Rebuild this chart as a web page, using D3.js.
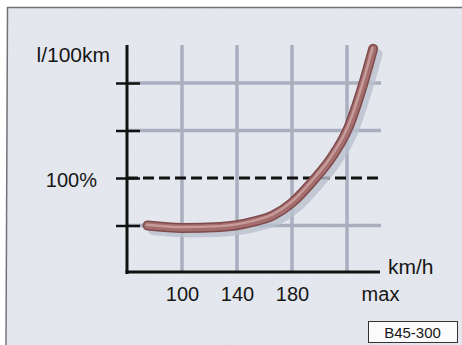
<!DOCTYPE html>
<html>
<head>
<meta charset="utf-8">
<script src="https://cdn.jsdelivr.net/npm/d3@7"></script>
<style>
  html, body { margin: 0; padding: 0; background: #ffffff; }
  svg { display: block; }
  text { font-family: "Liberation Sans", Arial, sans-serif; fill: #161616; }
</style>
</head>
<body>
<svg id="chart" width="462" height="345"></svg>
<script>
// ---- data ----
const speeds = [75, 100, 128, 152, 166, 180, 197, 208, 221, 232, 239];
const consumption = [50, 47.5, 48.5, 54, 60.5, 74, 100, 120, 153, 200, 236];
const xTickValues = [100, 140, 180, 244];
const xTickLabels = ["100", "140", "180", "max"];
const xGridValues = [100, 140, 180, 220];
const yTickValues = [50, 100, 150, 200];
const yTickLabels = ["", "100%", "", ""];
const referenceLevel = 100;
const yAxisTitle = "l/100km";
const xAxisTitle = "km/h";
const figureCode = "B45-300";

const svg = d3.select("#chart");

// background panel with subtle paper texture
const defs = svg.append("defs");
const f = defs.append("filter").attr("id", "paper").attr("x", 0).attr("y", 0).attr("width", "100%").attr("height", "100%");
f.append("feTurbulence").attr("type", "fractalNoise").attr("baseFrequency", 0.9).attr("numOctaves", 2).attr("seed", 3).attr("result", "noise");
f.append("feColorMatrix").attr("in", "noise").attr("type", "matrix")
  .attr("values", "0 0 0 0 0.55  0 0 0 0 0.58  0 0 0 0 0.66  0 0 0 0.22 0").attr("result", "tint");
f.append("feComposite").attr("in", "tint").attr("in2", "SourceGraphic").attr("operator", "over");

svg.append("rect").attr("x", 7).attr("y", 7).attr("width", 470).attr("height", 350)
  .attr("fill", "#e7eaf0").attr("filter", "url(#paper)");
svg.append("line").attr("x1", 7).attr("x2", 462).attr("y1", 7.5).attr("y2", 7.5).attr("stroke", "#6f7278").attr("stroke-width", 1.5);
svg.append("line").attr("x1", 7.5).attr("x2", 6).attr("y1", 7).attr("y2", 345).attr("stroke", "#6f7278").attr("stroke-width", 1.5);

// scales
const x = d3.scaleLinear().domain([60, 244]).range([127, 380]);
const y = d3.scaleLinear().domain([0, 240]).range([273, 45]);

// grid
const grid = svg.append("g");
grid.selectAll("line.v").data(xGridValues).join("line")
  .attr("x1", d => x(d)).attr("x2", d => x(d))
  .attr("y1", y(240)).attr("y2", y(0))
  .attr("stroke", "#a9afbe").attr("stroke-width", 3.5);
grid.selectAll("line.h").data(yTickValues.filter(v => v !== referenceLevel)).join("line")
  .attr("x1", x(60)).attr("x2", x(244) + 1)
  .attr("y1", d => y(d)).attr("y2", d => y(d))
  .attr("stroke", "#a9afbe").attr("stroke-width", 3.5);

// dashed 100% line
svg.append("line")
  .attr("x1", x(60)).attr("x2", x(244) + 1)
  .attr("y1", y(referenceLevel)).attr("y2", y(referenceLevel))
  .attr("stroke", "#111").attr("stroke-width", 3).attr("stroke-dasharray", "11,5");

// curve
const line = d3.line().x((d, i) => x(speeds[i])).y(d => y(d)).curve(d3.curveMonotoneX);
const cg = svg.append("g");
cg.append("path").datum(consumption).attr("d", line)
  .attr("transform", "translate(5,5)")
  .attr("fill", "none").attr("stroke", "#b9c0cd").attr("stroke-width", 9).attr("stroke-linecap", "round").attr("opacity", 0.8);
cg.append("path").datum(consumption).attr("d", line)
  .attr("fill", "none").attr("stroke", "#7f4a4b").attr("stroke-width", 10).attr("stroke-linecap", "round");
cg.append("path").datum(consumption).attr("d", line)
  .attr("fill", "none").attr("stroke", "#a46e6e").attr("stroke-width", 7).attr("stroke-linecap", "round");
cg.append("path").datum(consumption).attr("d", line)
  .attr("transform", "translate(-0.6,-0.8)")
  .attr("fill", "none").attr("stroke", "#c79b9a").attr("stroke-width", 2.5).attr("stroke-linecap", "round");

// y axis
const yAxis = svg.append("g").attr("transform", `translate(${x(60)},0)`)
  .call(d3.axisLeft(y).tickValues(yTickValues).tickSize(11).tickPadding(19)
    .tickFormat((d, i) => yTickLabels[i]));
yAxis.select(".domain").remove();
yAxis.append("line").attr("x1", 0).attr("x2", 0).attr("y1", y(240)).attr("y2", y(0) + 1)
  .attr("stroke", "#111").attr("stroke-width", 3);
yAxis.selectAll(".tick line").attr("x1", -11).attr("x2", 13).attr("stroke", "#111").attr("stroke-width", 2.5);
yAxis.selectAll(".tick text").attr("font-size", 20).attr("font-family", "Liberation Sans, Arial, sans-serif")
  .attr("fill", "#161616").attr("dy", "0.4em");
svg.append("text").attr("x", x(60) - 17).attr("y", y(240) + 17).attr("text-anchor", "end")
  .attr("font-size", 21).text(yAxisTitle);

// x axis
const xAxis = svg.append("g").attr("transform", `translate(0,${y(0) - 1})`)
  .call(d3.axisBottom(x).tickValues(xTickValues).tickSize(0).tickPadding(15)
    .tickFormat((d, i) => xTickLabels[i]));
xAxis.select(".domain").remove();
xAxis.append("line").attr("x1", x(60) - 1.5).attr("x2", x(244)).attr("y1", 0).attr("y2", 0)
  .attr("stroke", "#111").attr("stroke-width", 3);
xAxis.selectAll(".tick text").attr("font-size", 20).attr("font-family", "Liberation Sans, Arial, sans-serif")
  .attr("fill", "#161616");
svg.append("text").attr("x", x(244) + 8).attr("y", y(0) + 1).attr("text-anchor", "start")
  .attr("font-size", 21).text(xAxisTitle);

// figure code box
svg.append("rect").attr("x", 368.5).attr("y", 321.5).attr("width", 89).attr("height", 21)
  .attr("fill", "#fbfbfb").attr("stroke", "#333").attr("stroke-width", 1);
svg.append("text").attr("x", 412.5).attr("y", 337.5).attr("text-anchor", "middle")
  .attr("font-size", 15).text(figureCode);
</script>
</body>
</html>
